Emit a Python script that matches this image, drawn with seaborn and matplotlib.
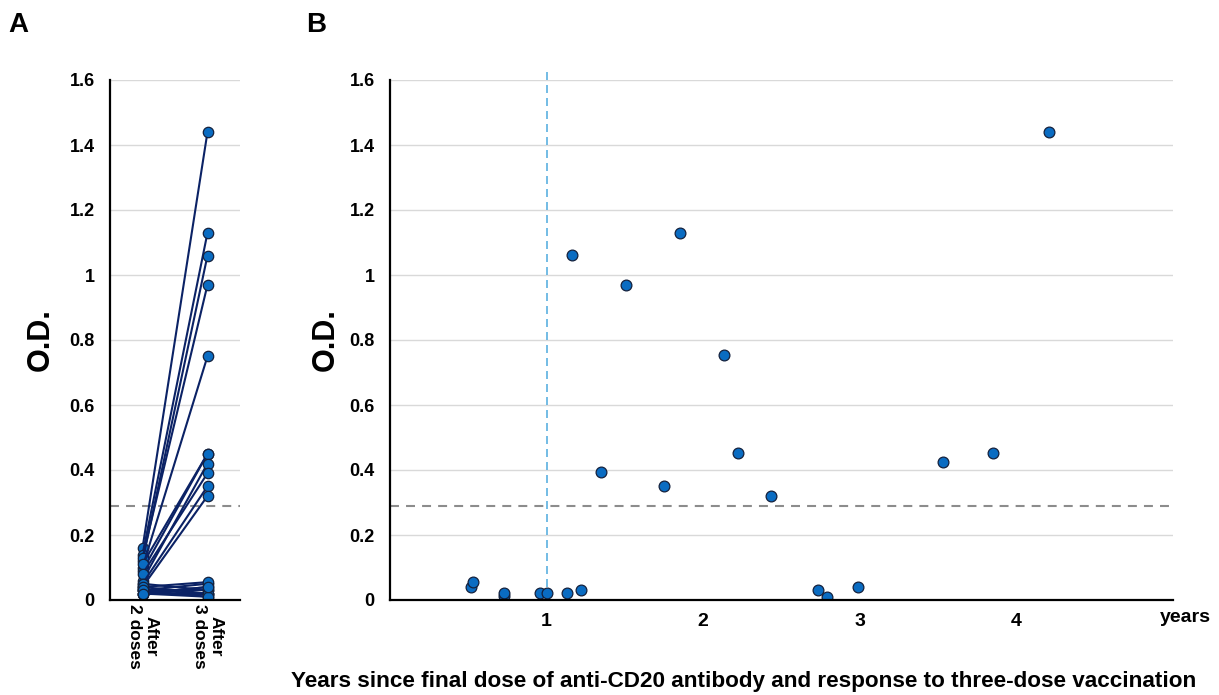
import matplotlib
matplotlib.use("Agg")
import matplotlib.pyplot as plt
import matplotlib.transforms as mtransforms
import pandas as pd
import seaborn as sns

sns.set_style("white")
plt.rcParams['font.family'] = ['Liberation Sans', 'DejaVu Sans']
plt.rcParams['font.weight'] = 'bold'
plt.rcParams['text.color'] = 'black'
plt.rcParams['axes.labelcolor'] = 'black'
plt.rcParams['xtick.color'] = 'black'
plt.rcParams['ytick.color'] = 'black'

# --- data ---
# panel A: O.D. after 2 doses vs after 3 doses (paired)
after2 = [0.16, 0.14, 0.12, 0.13, 0.10, 0.09, 0.11, 0.06, 0.08, 0.05, 0.04,
          0.03, 0.02, 0.04, 0.03, 0.02, 0.02, 0.05, 0.03, 0.04, 0.03, 0.02]
after3 = [1.44, 1.13, 1.06, 0.97, 0.75, 0.45, 0.45, 0.42, 0.39, 0.35, 0.32,
          0.05, 0.04, 0.055, 0.02, 0.01, 0.02, 0.03, 0.03, 0.02, 0.01, 0.04]
dose_labels = ['After\n2 doses', 'After\n3 doses']

# panel B: years since final anti-CD20 dose vs O.D. after 3 doses
years = [0.52, 0.53, 0.73, 0.73, 0.96, 1.00, 1.13, 1.22, 1.16, 1.35, 1.51,
         1.75, 1.85, 2.13, 2.22, 2.43, 2.73, 2.79, 2.99, 3.53, 3.85, 4.21]
od_b = [0.041, 0.055, 0.013, 0.022, 0.022, 0.022, 0.022, 0.031, 1.062, 0.394, 0.969,
        0.351, 1.129, 0.754, 0.452, 0.321, 0.031, 0.010, 0.041, 0.425, 0.452, 1.44]
y_ticks = [0, 0.2, 0.4, 0.6, 0.8, 1, 1.2, 1.4, 1.6]
y_tick_labels = ['0', '0.2', '0.4', '0.6', '0.8', '1', '1.2', '1.4', '1.6']
x_ticks = [1, 2, 3, 4]
cutoff = 0.29

fill = '#0a6cc2'
edge = '#14213d'
line_col = '#0b2265'
grid_col = '#d9d9d9'

fig = plt.figure(figsize=(12.19, 6.95), dpi=100)
axA = fig.add_axes([110 / 1219, 1 - 600 / 695, 130 / 1219, 520 / 695])
axB = fig.add_axes([390 / 1219, 1 - 600 / 695, 783 / 1219, 520 / 695])

# ---- panel A ----
rows = []
for i, (a, b) in enumerate(zip(after2, after3)):
    rows.append({'id': i, 'pos': 0, 'od': a})
    rows.append({'id': i, 'pos': 1, 'od': b})
dfA = pd.DataFrame(rows)
sns.lineplot(data=dfA, x='pos', y='od', units='id', estimator=None, ax=axA,
             color=line_col, lw=1.5, marker='o', markersize=7.5,
             markerfacecolor=fill, markeredgecolor=edge, markeredgewidth=0.9,
             zorder=3)

# ---- panel B ----
dfB = pd.DataFrame({'years': years, 'od': od_b})
sns.scatterplot(data=dfB, x='years', y='od', ax=axB, s=60, color=fill,
                edgecolor=edge, linewidth=0.9, zorder=3)
axB.axvline(1, ymin=0, ymax=1.022, color='#5bb0e0', lw=1.2, ls=(0, (4.8, 3)),
            clip_on=False, zorder=2)

for ax in (axA, axB):
    ax.set_ylim(0, 1.6)
    ax.set_yticks(y_ticks)
    ax.set_yticklabels(y_tick_labels, fontsize=13, fontweight='bold')
    ax.yaxis.grid(True, color=grid_col, lw=1)
    ax.set_axisbelow(True)
    ax.axhline(cutoff, color='#8c8c8c', lw=1.5, ls=(0, (4.3, 3.4)), zorder=1)
    for s in ('top', 'right'):
        ax.spines[s].set_visible(False)
    for s in ('left', 'bottom'):
        ax.spines[s].set_color('black')
        ax.spines[s].set_linewidth(1.6)
        ax.spines[s].set_zorder(4)
    ax.tick_params(length=0)
    ax.tick_params(axis='y', pad=11)
    ax.set_xlabel('')

axA.set_ylabel('O.D.', fontsize=22, fontweight='bold', labelpad=10)
axB.set_ylabel('O.D.', fontsize=22, fontweight='bold', labelpad=6)

axA.set_xlim(-0.5, 1.5)
axA.set_xticks([0, 1])
axA.set_xticklabels(dose_labels, rotation=-90, fontsize=12.5, fontweight='bold',
                    va='top', ha='center', linespacing=1.15)
axA.tick_params(axis='x', pad=3)

axB.set_xlim(0, 5)
axB.set_xticks(x_ticks)
axB.set_xticklabels([str(t) for t in x_ticks], fontsize=14, fontweight='bold')
axB.tick_params(axis='x', pad=9)
trans = mtransforms.blended_transform_factory(axB.transData, axB.transAxes)
axB.text(5.08, -0.034, 'years', transform=trans, ha='center', va='center',
         fontsize=14, fontweight='bold', clip_on=False)

fig.text(8 / 1219, 1 - 25 / 695, 'A', fontsize=20, fontweight='bold', va='center')
fig.text(306 / 1219, 1 - 25 / 695, 'B', fontsize=20, fontweight='bold', va='center')
fig.text(291 / 1219, 1 - 682 / 695,
         'Years since final dose of anti-CD20 antibody and response to three-dose vaccination',
         fontsize=16.2, fontweight='bold', ha='left', va='center')

fig.savefig('out.png', dpi=100)
